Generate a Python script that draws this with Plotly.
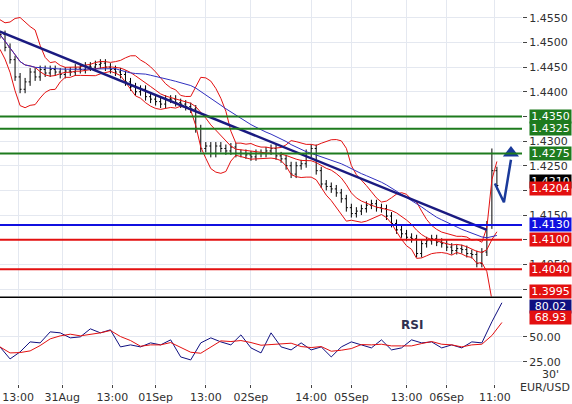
import numpy as np
import pandas as pd
import plotly.graph_objects as go

# EUR/USD 30' closes, one value per ~5px bar slot
closes = [1.4516, 1.4490, 1.4465, 1.4430, 1.4405, 1.4420, 1.4440, 1.4430, 1.4445, 1.4438,
          1.4445, 1.4440, 1.4435, 1.4442, 1.4440, 1.4448, 1.4445, 1.4452, 1.4450, 1.4455,
          1.4458, 1.4450, 1.4445, 1.4440, 1.4435, 1.4420, 1.4410, 1.4400, 1.4405, 1.4390,
          1.4385, 1.4380, 1.4375, 1.4385, 1.4385, 1.4378, 1.4375, 1.4370, 1.4365, 1.4325,
          1.4285, 1.4290, 1.4275, 1.4290, 1.4285, 1.4280, 1.4288, 1.4275, 1.4275, 1.4272,
          1.4268, 1.4275, 1.4275, 1.4280, 1.4285, 1.4270, 1.4264, 1.4250, 1.4233, 1.4250,
          1.4254, 1.4275, 1.4285, 1.4240, 1.4213, 1.4208, 1.4203, 1.4195, 1.4183, 1.4165,
          1.4153, 1.4158, 1.4163, 1.4170, 1.4173, 1.4165, 1.4163, 1.4148, 1.4133, 1.4120,
          1.4112, 1.4105, 1.4102, 1.4072, 1.4092, 1.4098, 1.4102, 1.4095, 1.4092, 1.4085,
          1.4078, 1.4082, 1.4080, 1.4072, 1.4070, 1.4052, 1.4075, 1.4130, 1.4240, 1.4210]
wick = 0.0008
spike_high = 1.4285

rsi = [40, 28, 35, 45, 44, 55, 54, 49, 50, 58, 54, 57, 40, 42, 40, 44, 42, 47, 30, 27,
       44, 49, 45, 42, 52, 39, 34, 54, 40, 37, 44, 37, 40, 30, 40, 45, 42, 39, 47, 37,
       39, 47, 44, 45, 39, 42, 39, 45, 44, 65, 84]

green_levels = [1.4350, 1.4325, 1.4275]
blue_levels = [1.4130]
red_levels = [1.4100, 1.4040]
axis_labels = [(1.4350, "1.4350", "#1e7b1e"), (1.4325, "1.4325", "#1e7b1e"),
               (1.4275, "1.4275", "#1e7b1e"), (1.4219, "1.4210", "black"),
               (1.4204, "1.4204", "#e31010"), (1.4130, "1.4130", "#1010e0"),
               (1.4100, "1.4100", "#e31010"), (1.4040, "1.4040", "#e31010"),
               (1.3995, "1.3995", "#e31010")]
rsi_labels = [(80.02, "80.02", "#101080"), (68.93, "68.93", "#e31010")]

trend_x = [0, 97]
trend_y = [1.4522, 1.4120]
arrow_x = [98.6, 100.4, 101.8]
arrow_y = [1.4214, 1.4176, 1.4262]

tick_pos = [3.6, 12.4, 22.4, 31, 41, 50, 62, 70, 81, 89, 98.6]
tick_text = ["13:00", "31Aug", "13:00", "01Sep", "13:00", "02Sep", "14:00", "05Sep", "13:00", "06Sep", "11:00"]

c = pd.Series(closes)
o = c.shift(1).fillna(c.iloc[0])
hi = np.maximum(o, c) + wick
lo = np.minimum(o, c) - wick
hi.iloc[98] = spike_high
x = list(range(len(closes)))

mid = c.rolling(8, min_periods=1).mean()
sd = c.rolling(8, min_periods=2).std().fillna(0.0015)
ma = c.rolling(24, min_periods=1).mean()

fig = go.Figure()
fig.add_trace(go.Ohlc(x=x, open=o, high=hi, low=lo, close=c,
                      increasing_line_color="black", decreasing_line_color="black",
                      line_width=1, tickwidth=0.3, showlegend=False))
for band in [mid + 2 * sd, mid - 2 * sd, mid]:
    fig.add_trace(go.Scatter(x=x, y=band, mode="lines", line=dict(color="#e31010", width=1), showlegend=False))
fig.add_trace(go.Scatter(x=x, y=ma, mode="lines", line=dict(color="#3030c0", width=1), showlegend=False))
fig.add_trace(go.Scatter(x=trend_x, y=trend_y, mode="lines", line=dict(color="#1a1a80", width=2.5), showlegend=False))
fig.add_trace(go.Scatter(x=arrow_x, y=arrow_y, mode="lines", line=dict(color="#1a3a9a", width=2.5), showlegend=False))
fig.add_trace(go.Scatter(x=[arrow_x[-1]], y=[1.4276], mode="markers",
                         marker=dict(symbol="triangle-up", size=14, color="#1a3a9a"), showlegend=False))

for lvls, col in [(green_levels, "#1e7b1e"), (blue_levels, "#1010e0"), (red_levels, "#e31010")]:
    for lv in lvls:
        fig.add_hline(y=lv, line=dict(color=col, width=2), xref="x", yref="y")

LBL_X = 1.096  # right edge of the figure in plot-paper units
for val, txt, col in axis_labels:
    fig.add_annotation(x=LBL_X, xref="paper", xanchor="right", y=val, yref="y", text=txt,
                       showarrow=False, bgcolor=col, font=dict(color="white", size=11, family="DejaVu Sans"),
                       borderpad=0, width=41, height=13)

# RSI panel
rx = [2 * i for i in range(len(rsi))]
rs = pd.Series(rsi)
sig = rs.rolling(3, min_periods=1).mean()
fig.add_trace(go.Scatter(x=rx, y=rs, mode="lines", line=dict(color="#101080", width=1), xaxis="x", yaxis="y2", showlegend=False))
fig.add_trace(go.Scatter(x=rx, y=sig, mode="lines", line=dict(color="#e31010", width=1), xaxis="x", yaxis="y2", showlegend=False))
for val, txt, col in rsi_labels:
    fig.add_annotation(x=LBL_X, xref="paper", xanchor="right", y=val, yref="y2", text=txt,
                       showarrow=False, bgcolor=col, font=dict(color="white", size=11, family="DejaVu Sans"),
                       borderpad=0, width=41, height=13)
fig.add_annotation(x=82, y=62, xref="x", yref="y2", text="<b>RSI</b>", showarrow=False,
                   font=dict(color="#303050", size=12, family="DejaVu Sans"))
fig.add_annotation(x=1.075, xref="paper", xanchor="right", y=0.003, yref="paper",
                   text="30'", showarrow=False, font=dict(color="#303030", size=11, family="DejaVu Sans"))
fig.add_annotation(x=LBL_X, xref="paper", xanchor="right", y=-0.031, yref="paper",
                   text="EUR/USD", showarrow=False, font=dict(color="#303030", size=11, family="DejaVu Sans"))
fig.add_shape(type="line", xref="paper", yref="paper", x0=0, x1=1, y0=0.226, y1=0.226,
              line=dict(color="black", width=1.5))

fig.update_layout(
    width=572, height=404, margin=dict(l=0, r=50, t=0, b=20, autoexpand=False),
    paper_bgcolor="white", plot_bgcolor="white",
    font=dict(family="DejaVu Sans", size=11, color="#303030"),
    xaxis=dict(domain=[0, 1], range=[0, 104], tickvals=tick_pos, ticktext=tick_text,
               showgrid=True, gridcolor="#e4e8f0", zeroline=False, rangeslider=dict(visible=False),
               ticks="outside", ticklen=3, anchor="y2", tickfont=dict(size=11)),
    yaxis=dict(domain=[0.228, 1], range=[1.3985, 1.4586], side="right", tickformat=".4f",
               dtick=0.005, showgrid=True, gridcolor="#e4e8f0", zeroline=False,
               ticks="outside", ticklen=4, tickfont=dict(size=11)),
    yaxis2=dict(domain=[0, 0.222], range=[3, 88], side="right", tickformat=".2f",
                tickvals=[25, 50], showgrid=True, gridcolor="#e4e8f0", zeroline=False,
                ticks="outside", ticklen=4, tickfont=dict(size=11)),
)
fig.write_html("out.html", config={"displayModeBar": False},
               post_script="document.body.style.margin='0';")
